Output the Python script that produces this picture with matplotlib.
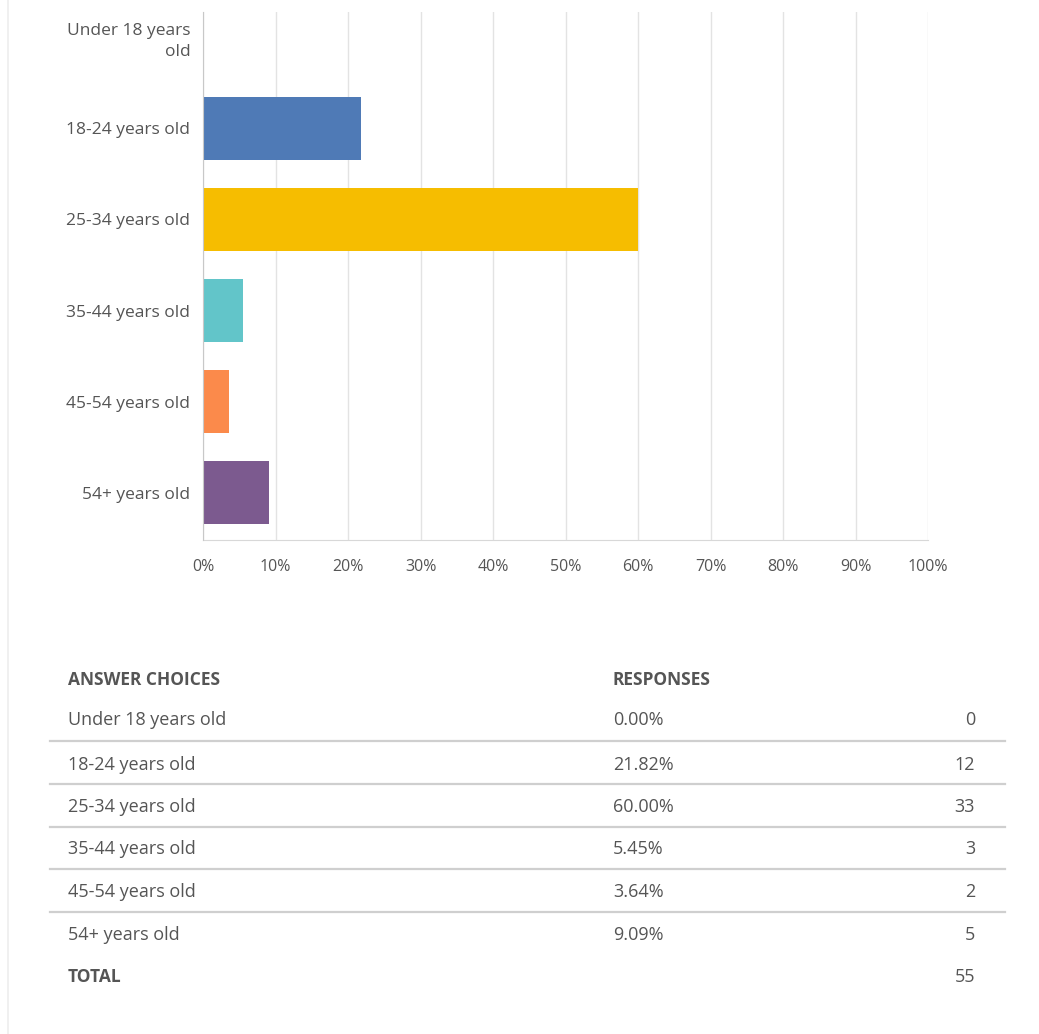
import matplotlib.pyplot as plt
from matplotlib.lines import Line2D

plt.rcParams['font.family'] = ['Open Sans', 'DejaVu Sans']

# Survey: age of respondents
categories = ["Under 18 years\nold", "18-24 years old", "25-34 years old",
              "35-44 years old", "45-54 years old", "54+ years old"]
choices = ["Under 18 years old", "18-24 years old", "25-34 years old",
           "35-44 years old", "45-54 years old", "54+ years old"]
percents = [0.00, 21.82, 60.00, 5.45, 3.64, 9.09]
counts = [0, 12, 33, 3, 2, 5]
total = 55
bar_colors = ["#4f7ab6", "#4f7ab6", "#f6bd00", "#62c5c9", "#fb8a4b", "#7c5a8f"]
x_ticks = [0, 10, 20, 30, 40, 50, 60, 70, 80, 90, 100]

W, H = 1039, 1034
text_color = "#555555"
grid_color = "#e3e3e3"

fig = plt.figure(figsize=(W / 100, H / 100), dpi=100)

# page border on the left
fig.add_artist(Line2D([8 / W, 8 / W], [0, 1], color="#ededed", lw=1.2))

ax = fig.add_axes([203 / W, (H - 540) / H, (928 - 203) / W, (540 - 12) / H])
y = list(range(len(categories)))
ax.barh(y, percents, height=0.69, color=bar_colors, zorder=3)
ax.set_xlim(0, 100)
ax.set_ylim(5.516, -0.275)
ax.set_yticks(y)
ax.set_yticklabels(categories, fontsize=12.5, color=text_color, linespacing=1.4)
ax.set_xticks(x_ticks)
ax.set_xticklabels([f"{t}%" for t in x_ticks], fontsize=11.5, color=text_color)
ax.tick_params(axis="both", length=0)
ax.tick_params(axis="x", pad=14)
ax.tick_params(axis="y", pad=9)
ax.grid(axis="x", color=grid_color, lw=1, zorder=0)
for side in ["top", "right"]:
    ax.spines[side].set_visible(False)
ax.spines["left"].set_color("#c8c8c8")
ax.spines["bottom"].set_color("#d8d8d8")
ax.spines["left"].set_zorder(4)

# summary table below the chart
def fy(py):
    return 1 - py / H

fig.text(68 / W, fy(680), "ANSWER CHOICES", fontsize=12.5, fontweight="bold",
         color=text_color, va="center")
fig.text(613 / W, fy(680), "RESPONSES", fontsize=12.5, fontweight="bold",
         color=text_color, va="center")

row_y = [720, 765, 807, 849, 892, 935]
sep_y = [741, 784, 827, 869, 912]
for i, name in enumerate(choices):
    fig.text(68 / W, fy(row_y[i]), name, fontsize=13, color=text_color, va="center")
    fig.text(613 / W, fy(row_y[i]), f"{percents[i]:.2f}%", fontsize=13,
             color=text_color, va="center")
    fig.text(975 / W, fy(row_y[i]), str(counts[i]), fontsize=13,
             color=text_color, va="center", ha="right")
for sy in sep_y:
    fig.add_artist(Line2D([50 / W, 1005 / W], [fy(sy), fy(sy)],
                          color="#cfcfcf", lw=1.6))

fig.text(68 / W, fy(977), "TOTAL", fontsize=12.5, fontweight="bold",
         color=text_color, va="center")
fig.text(975 / W, fy(977), str(total), fontsize=13, color=text_color,
         va="center", ha="right")

fig.savefig("out.png", dpi=100)
